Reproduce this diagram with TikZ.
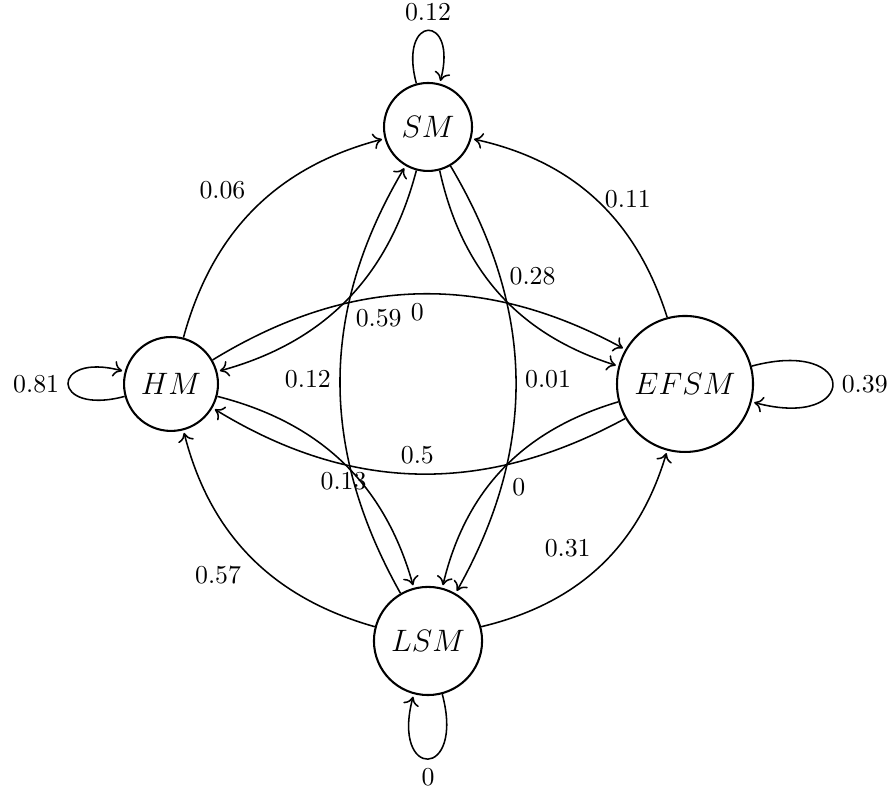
\documentclass[tikz,border=0pt]{standalone}
\usetikzlibrary{arrows.meta}
\begin{document}
\begin{tikzpicture}[>={To[length=3.4pt, width=6.2pt]}, shorten >=1pt, semithick,
  statenode/.style={circle, draw, thick, inner sep=0pt, font=\large},
  prob/.style={font=\normalsize}]
\useasboundingbox (-5.829,-5.543) rectangle (6.305,5.229);

% the four states
\node[statenode, minimum size=34.1pt] (SM)   at (0,3.5)  {$SM$};
\node[statenode, minimum size=36.4pt] (HM)   at (-3.5,0) {$HM$};
\node[statenode, minimum size=52.7pt] (EFSM) at (3.5,0)  {$EFSM$};
\node[statenode, minimum size=41.9pt] (LSM)  at (0,-3.5) {$LSM$};

% self loops
\path[->]
  (SM)   edge[loop above] node[prob, above] {0.12} ()
  (HM)   edge[loop left]  node[prob, left]  {0.81} ()
  (EFSM) edge[loop right] node[prob, right] {0.39} ()
  (LSM)  edge[loop below] node[prob, below] {0} ();

% outer transitions
\path[->]
  (HM)   edge[bend left=30]  node[prob, midway, above left] {0.06} (SM)
  (EFSM) edge[bend right=30] node[prob, midway, right]      {0.11} (SM)
  (LSM)  edge[bend right=30] node[prob, midway, above left] {0.31} (EFSM)
  (LSM)  edge[bend left=30]  node[prob, midway, below left] {0.57} (HM);

% inner transitions
\path[->]
  (SM)   edge[bend left=30]  node[prob, midway, below right] {0.59} (HM)
  (HM)   edge[bend left=30]  node[prob, midway, below]       {0}    (EFSM)
  (SM)   edge[bend right=30] node[prob, midway, above right] {0.28} (EFSM)
  (SM)   edge[bend left=30]  node[prob, midway, right]       {0.01} (LSM)
  (LSM)  edge[bend left=30]  node[prob, midway, left]        {0.12} (SM)
  (EFSM) edge[bend left=30]  node[prob, midway, above]       {0.5}  (HM)
  (HM)   edge[bend left=30]  node[prob, midway, below]       {0.13} (LSM)
  (EFSM) edge[bend right=30] node[prob, midway, below right] {0}    (LSM);
\end{tikzpicture}
\end{document}
